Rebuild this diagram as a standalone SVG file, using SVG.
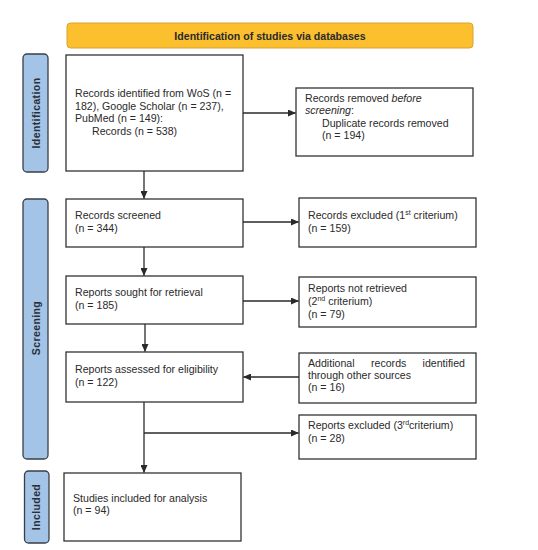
<svg xmlns="http://www.w3.org/2000/svg" width="538" height="550" viewBox="0 0 538 550">
<style>
  text { font-family: "Liberation Sans", Arial, sans-serif; font-size: 10.6px; fill: #2a2a2a; }
  .box { fill: #ffffff; stroke: #333333; stroke-width: 1.3; }
  .side { fill: #a3c4e6; stroke: #3a3f47; stroke-width: 1.3; }
  .head { fill: #fcbf2e; stroke: #d9a234; stroke-width: 1; }
  .bold { font-weight: bold; }
  .sidelabel { font-weight: bold; font-size: 10.5px; letter-spacing: 0.4px; text-anchor: middle; fill: #2a2f38; }
  .conn { fill: none; stroke: #2a2a2a; stroke-width: 1.3; }
  .sup { font-size: 7px; }
</style>
<defs>
  <marker id="arr" markerUnits="userSpaceOnUse" markerWidth="8" markerHeight="7" refX="7.5" refY="3.5" orient="auto">
    <path d="M0,0 L8,3.5 L0,7 z" fill="#2a2a2a"/>
  </marker>
</defs>
<rect width="538" height="550" fill="#ffffff"/>

<g id="header">
  <rect class="head" x="67" y="23" width="406" height="25" rx="3.5"/>
  <text class="bold" x="270" y="39.5" text-anchor="middle">Identification of studies via databases</text>
</g>

<g id="side-identification">
  <rect class="side" x="23" y="54" width="25" height="118" rx="4"/>
  <text class="sidelabel" transform="translate(39.5,113) rotate(-90)">Identification</text>
</g>
<g id="side-screening">
  <rect class="side" x="23" y="199" width="25" height="260" rx="4"/>
  <text class="sidelabel" transform="translate(39.5,328) rotate(-90)">Screening</text>
</g>
<g id="side-included">
  <rect class="side" x="24.5" y="471" width="24.5" height="72" rx="4"/>
  <text class="sidelabel" transform="translate(40,507) rotate(-90)">Included</text>
</g>

<g id="records-identified">
  <rect class="box" x="66" y="55" width="177" height="116"/>
  <text x="75" y="97">Records identified from WoS (n =</text>
  <text x="75" y="109.5">182), Google Scholar (n = 237),</text>
  <text x="75" y="122">PubMed (n = 149):</text>
  <text x="92" y="134.5">Records (n = 538)</text>
</g>

<g id="records-removed">
  <rect class="box" x="296" y="88" width="177" height="68"/>
  <text x="305" y="101.5">Records removed <tspan font-style="italic">before</tspan></text>
  <text x="305" y="114"><tspan font-style="italic">screening</tspan>:</text>
  <text x="322" y="126.5">Duplicate records removed</text>
  <text x="322" y="139">(n = 194)</text>
</g>

<g id="records-screened">
  <rect class="box" x="66" y="199" width="177" height="48"/>
  <text x="75" y="219">Records screened</text>
  <text x="75" y="232">(n = 344)</text>
</g>

<g id="records-excluded">
  <rect class="box" x="299" y="198" width="177" height="49"/>
  <text x="308" y="219">Records excluded (1<tspan class="sup" dy="-4">st</tspan><tspan dy="4"> criterium)</tspan></text>
  <text x="308" y="232">(n = 159)</text>
</g>

<g id="reports-sought">
  <rect class="box" x="66" y="276" width="177" height="48"/>
  <text x="75" y="296">Reports sought for retrieval</text>
  <text x="75" y="309">(n = 185)</text>
</g>

<g id="reports-not-retrieved">
  <rect class="box" x="299" y="277" width="177" height="50"/>
  <text x="308" y="292">Reports not retrieved</text>
  <text x="308" y="304.5">(2<tspan class="sup" dy="-4">nd</tspan><tspan dy="4"> criterium)</tspan></text>
  <text x="308" y="317.5">(n = 79)</text>
</g>

<g id="reports-assessed">
  <rect class="box" x="66" y="352" width="177" height="50"/>
  <text x="75" y="373">Reports assessed for eligibility</text>
  <text x="75" y="386">(n = 122)</text>
</g>

<g id="additional-records">
  <rect class="box" x="299" y="353" width="177" height="50"/>
  <text x="308" y="367">Additional</text>
  <text x="371" y="367">records</text>
  <text x="465" y="367" text-anchor="end">identified</text>
  <text x="308" y="379">through other sources</text>
  <text x="308" y="391">(n = 16)</text>
</g>

<g id="reports-excluded">
  <rect class="box" x="299" y="415" width="177" height="44"/>
  <text x="308" y="429">Reports excluded (3<tspan class="sup" dy="-4">rd</tspan><tspan dy="4">criterium)</tspan></text>
  <text x="308" y="442">(n = 28)</text>
</g>

<g id="studies-included">
  <rect class="box" x="64" y="473" width="177" height="68"/>
  <text x="73" y="502">Studies included for analysis</text>
  <text x="73" y="514">(n = 94)</text>
</g>

<g id="connectors">
  <line class="conn" x1="243" y1="113" x2="295.5" y2="113" marker-end="url(#arr)"/>
  <line class="conn" x1="144" y1="171" x2="144" y2="198.5" marker-end="url(#arr)"/>
  <line class="conn" x1="243" y1="222" x2="298.5" y2="222" marker-end="url(#arr)"/>
  <line class="conn" x1="144" y1="247" x2="144" y2="275.5" marker-end="url(#arr)"/>
  <line class="conn" x1="243" y1="301" x2="298.5" y2="301" marker-end="url(#arr)"/>
  <line class="conn" x1="145" y1="324" x2="145" y2="351.5" marker-end="url(#arr)"/>
  <line class="conn" x1="299" y1="377" x2="243.5" y2="377" marker-end="url(#arr)"/>
  <line class="conn" x1="144" y1="402" x2="144" y2="472.5" marker-end="url(#arr)"/>
  <line class="conn" x1="144" y1="433" x2="298.5" y2="433" marker-end="url(#arr)"/>
</g>
</svg>
